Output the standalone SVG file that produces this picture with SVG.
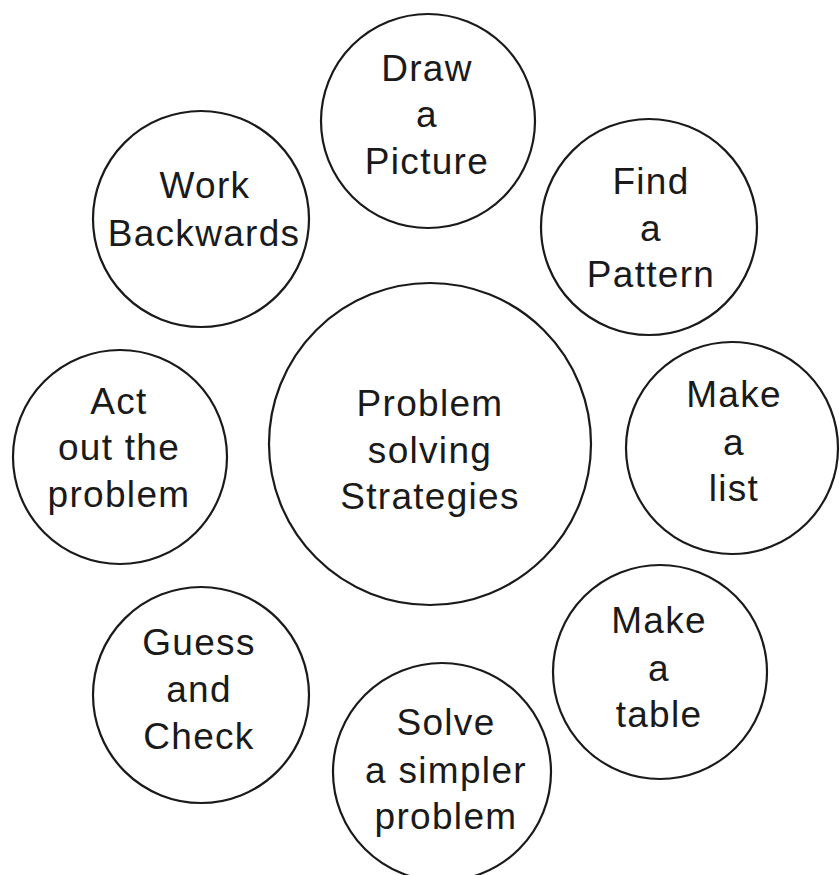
<svg xmlns="http://www.w3.org/2000/svg" width="840" height="875" viewBox="0 0 840 875">
<style>
.n{fill:#fff;stroke:#1a1a1a;stroke-width:2.2}
.t{font-family:"Liberation Sans",Arial,sans-serif;font-size:37px;letter-spacing:1.3px;fill:#1a1a1a;text-anchor:middle}
</style>
<rect width="840" height="875" fill="#fff"/>
<g id="connectors"></g>
<g id="center"><circle class="n" cx="430" cy="444" r="161"/>
<text class="t" x="430" y="416">Problem</text><text class="t" x="430" y="463">solving</text><text class="t" x="430" y="509">Strategies</text></g>
<g id="draw"><circle class="n" cx="428" cy="121" r="107"/>
<text class="t" x="427" y="81">Draw</text><text class="t" x="427" y="127">a</text><text class="t" x="427" y="174">Picture</text></g>
<g id="work"><circle class="n" cx="201" cy="219" r="108"/>
<text class="t" x="205" y="198">Work</text><text class="t" x="204" y="246">Backwards</text></g>
<g id="find"><circle class="n" cx="649" cy="227" r="108"/>
<text class="t" x="651" y="194">Find</text><text class="t" x="651" y="241">a</text><text class="t" x="651" y="287">Pattern</text></g>
<g id="list"><circle class="n" cx="732" cy="448" r="106"/>
<text class="t" x="734" y="407">Make</text><text class="t" x="734" y="455">a</text><text class="t" x="734" y="501">list</text></g>
<g id="act"><circle class="n" cx="120" cy="457" r="107"/>
<text class="t" x="119" y="414">Act</text><text class="t" x="119" y="460">out the</text><text class="t" x="119" y="507">problem</text></g>
<g id="guess"><circle class="n" cx="201" cy="695" r="108"/>
<text class="t" x="199" y="655">Guess</text><text class="t" x="199" y="702">and</text><text class="t" x="199" y="749">Check</text></g>
<g id="table"><circle class="n" cx="660" cy="672" r="107"/>
<text class="t" x="659" y="633">Make</text><text class="t" x="659" y="681">a</text><text class="t" x="659" y="727">table</text></g>
<g id="solve"><circle class="n" cx="442" cy="772" r="109"/>
<text class="t" x="446" y="735">Solve</text><text class="t" x="446" y="783">a simpler</text><text class="t" x="446" y="829">problem</text></g>
</svg>
